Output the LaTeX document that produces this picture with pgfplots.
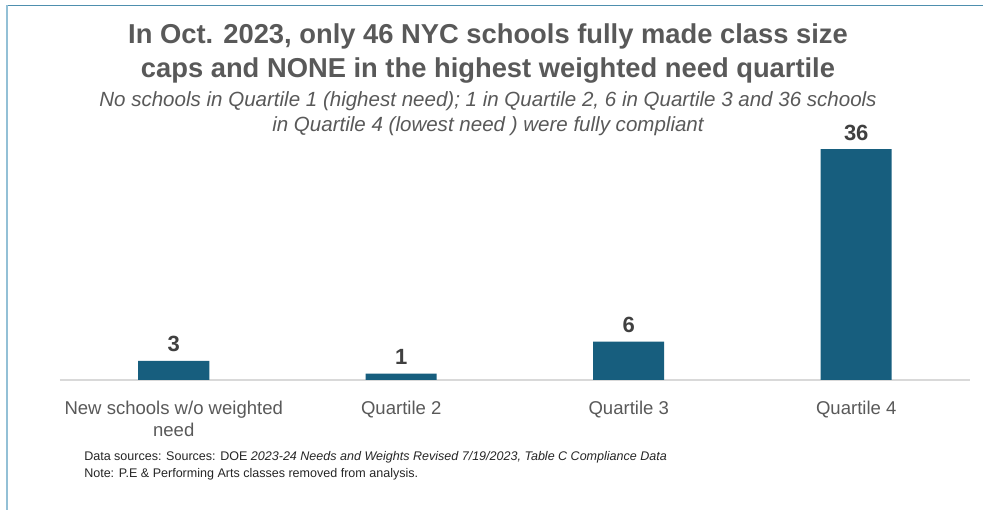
\documentclass[border=0pt]{standalone}
\usepackage{pgfplots}
\pgfplotsset{compat=1.18}
\usepackage{fontspec}
\setmainfont{Liberation Sans}
\definecolor{barblue}{RGB}{23,94,126}
\definecolor{titlegray}{RGB}{89,89,89}
\definecolor{labelgray}{RGB}{64,64,64}
\definecolor{topblue}{RGB}{78,143,174}
\definecolor{leftblue}{RGB}{147,192,214}
\definecolor{axisgray}{RGB}{217,217,217}
\begin{document}
\begin{tikzpicture}[x=0.75pt,y=0.75pt]
\useasboundingbox (0,0) rectangle (983,510);
\fill[white] (0,0) rectangle (983,510);
\draw[topblue, line width=1.2pt] (7,504.5) -- (983,504.5);
\draw[leftblue, line width=1.2pt] (7,0) -- (7,504.5);
\node[font=\bfseries\fontsize{20.5}{25.5}\selectfont, text=titlegray, align=center] at (488,456)
  {In Oct. 2023, only 46 NYC schools fully made class size\\caps and NONE in the highest weighted need quartile};
\node[font=\itshape\fontsize{15.4}{18.75}\selectfont, text=titlegray, align=center] at (488,396.5)
  {No schools in Quartile 1 (highest need); 1 in Quartile 2, 6 in Quartile 3 and 36 schools\\in Quartile 4 (lowest need ) were fully compliant};
\node[font=\fontsize{9.4}{12.75}\selectfont, text=black!85, align=left, anchor=west, inner sep=0pt] at (84,44.5)
  {Data sources: Sources: DOE \textit{2023-24 Needs and Weights Revised 7/19/2023, Table C Compliance Data}\\Note: P.E \& Performing Arts classes removed from analysis.};
\begin{axis}[
  at={(45pt,97.5pt)}, anchor=south west,
  scale only axis, width=682.5pt, height=187.5pt,
  xmin=-0.5, xmax=3.5, ymin=0, ymax=39,
  axis x line*=bottom, axis y line=none,
  x axis line style={draw=axisgray, line width=1pt, -},
  xtick={0,1,2,3},
  xticklabels={{New schools w/o weighted\\need},{Quartile 2},{Quartile 3},{Quartile 4}},
  major tick length=0pt,
  x tick label style={font=\fontsize{13.9}{16.5}\selectfont, text=titlegray, align=center, anchor=north, yshift=-12pt},
  ybar, bar width=53.25pt,
  clip=false,
  nodes near coords,
  every node near coord/.append style={font=\bfseries\fontsize{16.5}{18}\selectfont, text=labelgray, yshift=3pt, /pgf/number format/assume math mode=true},
]
\addplot[fill=barblue, draw=none] coordinates {(0,3) (1,1) (2,6) (3,36)};
\end{axis}
\end{tikzpicture}
\end{document}
